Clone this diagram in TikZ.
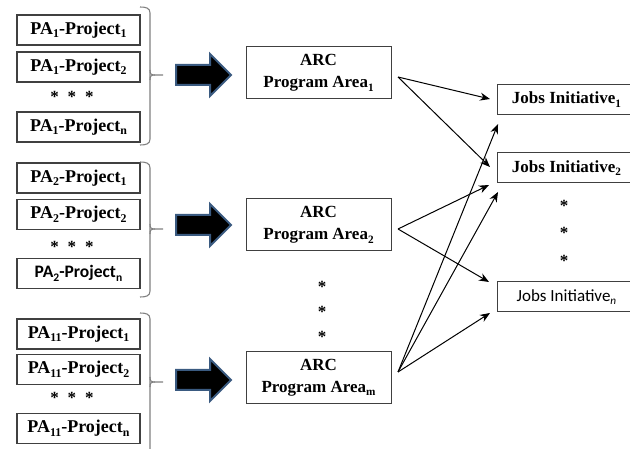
\documentclass[tikz,border=0pt]{standalone}
\usepackage{fontspec}
\usepackage{graphicx}
\setmainfont{Liberation Serif}
\newfontfamily\carlito{Carlito}
\usetikzlibrary{arrows.meta}

\definecolor{boxline}{HTML}{404040}
\definecolor{braceline}{HTML}{808080}
\definecolor{arrowrim}{HTML}{3A5A80}

% lowered, smaller index as in "Project_1"
\newcommand\dn[1]{\raisebox{-0.2em}{\scalebox{0.66}{#1}}}

% right curly brace: top, tip, bottom (y values)
\newcommand\bracepath[3]{%
  \draw[brace] (140,#1) .. controls (146,#1) and (150,#1+1) .. (150,#1+6)
     -- (150,#3-6) .. controls (150,#3-1) and (146,#3) .. (140,#3);
  \draw[brace] (150,#2-5) .. controls (150,#2-1) and (151,#2) .. (155,#2) -- (163,#2);
  \draw[brace] (150,#2+5) .. controls (150,#2+1) and (151,#2) .. (155,#2);
}

% thick block arrow centred on y
\newcommand\blockarrow[1]{%
  \draw[bigarrow] (176,#1-10) -- (210,#1-10) -- (210,#1-21) -- (231,#1)
     -- (210,#1+21) -- (210,#1+10) -- (176,#1+10) -- cycle;
}

\tikzset{
  pabox/.style={draw=boxline, line width=1.2pt, minimum width=123pt,
    minimum height=30pt, inner sep=0pt,
    font=\fontsize{18}{22}\selectfont\bfseries},
  pasans/.style={pabox, font=\carlito\fontsize{17.5}{22}\selectfont\bfseries},
  arcbox/.style={draw=boxline, line width=1pt, minimum width=145pt,
    minimum height=52pt, inner sep=0pt, align=center,
    font=\fontsize{17}{22}\selectfont\bfseries},
  jobbox/.style={draw=boxline, line width=1pt, minimum width=138pt,
    minimum height=30pt, inner sep=0pt, anchor=west,
    font=\fontsize{17}{20}\selectfont\bfseries},
  jobsans/.style={jobbox, font=\carlito\fontsize{17}{20}\selectfont},
  starrow/.style={inner sep=0pt, font=\fontsize{17}{20}\selectfont\bfseries},
  starcol/.style={inner sep=0pt, align=center,
    font=\fontsize{17}{#1}\selectfont\bfseries},
  brace/.style={draw=braceline, line width=1.1pt},
  bigarrow/.style={fill=black, draw=arrowrim, line width=2pt, line join=miter},
  link/.style={draw=black, line width=1pt, -{Stealth[length=10pt,width=8pt]}}
}

\begin{document}
\begin{tikzpicture}[x=1pt,y=-1pt]
\useasboundingbox (0,0) rectangle (630,449);
\clip (0,0) rectangle (630,449);

% ---- project groups ----
\node[pabox] (p11) at (78.5,30)  {PA\dn{1}-Project\dn{1}};
\node[pabox] (p12) at (78.5,67)  {PA\dn{1}-Project\dn{2}};
\node[starrow] (s1) at (72,97) {*\hspace{9pt}*\hspace{9pt}*};
\node[pabox] (p1n) at (78.5,127) {PA\dn{1}-Project\dn{n}};
\bracepath{7}{75}{145}

\node[pabox] (p21) at (78.5,178)   {PA\dn{2}-Project\dn{1}};
\node[pabox] (p22) at (78.5,214.5) {PA\dn{2}-Project\dn{2}};
\node[starrow] (s2) at (72,247) {*\hspace{9pt}*\hspace{9pt}*};
\node[pasans] (p2n) at (78.5,273.5) {PA\dn{2}-Project\dn{n}};
\bracepath{162}{229}{297}

\node[pabox] (p31) at (78.5,334)   {PA\dn{11}-Project\dn{1}};
\node[pabox] (p32) at (78.5,369.5) {PA\dn{11}-Project\dn{2}};
\node[starrow] (s3) at (72,398) {*\hspace{9pt}*\hspace{9pt}*};
\node[pabox] (p3n) at (78.5,428.5) {PA\dn{11}-Project\dn{n}};
\bracepath{313}{382}{480}

% ---- block arrows ----
\blockarrow{75}
\blockarrow{225}
\blockarrow{380}

% ---- program areas ----
\node[arcbox] (a1) at (318.5,73)    {ARC\\Program Area\dn{1}};
\node[arcbox] (a2) at (318.5,225)   {ARC\\Program Area\dn{2}};
\node[starcol=25] (sa) at (322,312) {*\\*\\*};
\node[arcbox] (am) at (318.5,377.5) {ARC\\Program Area\dn{m}};

% ---- jobs initiatives ----
\node[jobbox] (j1) at (497,99.5) {Jobs Initiative\dn{1}};
\node[jobbox] (j2) at (497,168)  {Jobs Initiative\dn{2}};
\node[starcol=27.5] (sj) at (564,233) {*\\*\\*};
\node[jobsans] (jn) at (497,297) {Jobs Initiative\dn{\itshape n}};

% ---- connector ends ----
\coordinate (o1) at (398,77);
\coordinate (o2) at (398,229);
\coordinate (om) at (398,372);
\coordinate (t1a) at (490,99);
\coordinate (t1b) at (498,124);
\coordinate (t2a) at (490,167);
\coordinate (t2b) at (489,185);
\coordinate (t2c) at (498,192);
\coordinate (tna) at (489,282);
\coordinate (tnb) at (490,313);

\draw[link] (o1) -- (t1a);
\draw[link] (o1) -- (t2a);
\draw[link] (o2) -- (t2b);
\draw[link] (o2) -- (tna);
\draw[link] (om) -- (t1b);
\draw[link] (om) -- (t2c);
\draw[link] (om) -- (tnb);
\end{tikzpicture}
\end{document}
